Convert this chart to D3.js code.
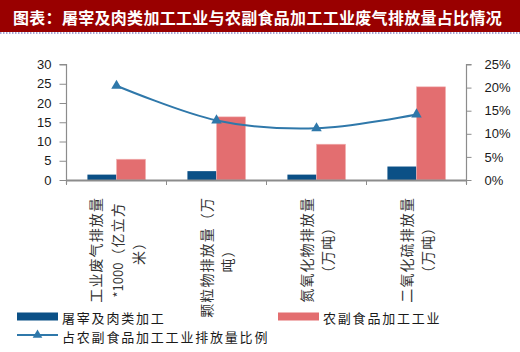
<!DOCTYPE html>
<html>
<head>
<meta charset="utf-8">
<script src="https://cdn.jsdelivr.net/npm/d3@7"></script>
<style>
  body { margin: 0; background: #fff; }
  svg { display: block; font-family: "Liberation Sans", Arial, sans-serif; }
  .cjk { font-family: "Noto Sans CJK SC", sans-serif; }
</style>
</head>
<body>
<svg></svg>
<script>
// chart data
const categories = ["工业废气排放量*1000（亿立方米）", "颗粒物排放量（万吨）", "氮氧化物排放量（万吨）", "二氧化硫排放量（万吨）"];
const categoryLines = [
    ["工业废气排放量", "*1000（亿立方", "米）"],
    ["颗粒物排放量（万", "吨）"],
    ["氮氧化物排放量", "（万吨）"],
    ["二氧化硫排放量", "（万吨）"]
];
const seriesNames = ["屠宰及肉类加工", "农副食品加工工业"];
const meatValues = [1.4, 2.3, 1.4, 3.5];
const farmValues = [5.4, 16.4, 9.3, 24.2];
const lineName = "占农副食品加工工业排放量比例";
const shareValues = [0.204, 0.129, 0.112, 0.142];
const leftTicks = [0, 5, 10, 15, 20, 25, 30];
const rightTicks = [0, 0.05, 0.10, 0.15, 0.20, 0.25];
const title = "图表：屠宰及肉类加工工业与农副食品加工工业废气排放量占比情况";

const W = 520, H = 352;
const margin = { top: 64.5, left: 66.5, right: 53.5, bottom: 172 };
const width = W - margin.left - margin.right;
const height = 180 - margin.top;

const svg = d3.select("svg").attr("width", W).attr("height", H);

// title bar
svg.append("rect").attr("x", 0).attr("y", 0).attr("width", W).attr("height", 32).attr("fill", "#990000");
svg.append("line").attr("x1", 0).attr("x2", W).attr("y1", 33).attr("y2", 33)
    .attr("stroke", "#8a8ac8").attr("stroke-width", 1.5).attr("stroke-dasharray", "1.5,1.5");
svg.append("text").attr("class", "cjk")
    .attr("x", 13).attr("y", 17)
    .attr("dominant-baseline", "central")
    .attr("fill", "#fff").attr("font-size", 16).attr("font-weight", "bold")
    .attr("letter-spacing", 0.3)
    .text(title);

const plot = svg.append("g").attr("transform", `translate(${margin.left}, ${margin.top})`);

// scales
const x = d3.scaleBand().domain(categories).range([0, width]).padding(0);
const xs = d3.scaleBand().domain(seriesNames).range([0, x.bandwidth()]).paddingInner(0).paddingOuter(0.72);
const y = d3.scaleLinear().domain([0, 30]).range([height, 0]);
const y2 = d3.scaleLinear().domain([0, 0.25]).range([height, 0]);

const colors = ["#0b5086", "#e36e70"];
const lineColor = "#2f78aa";
const axisColor = "#8c8c8c";

// bars
const rows = categories.map((c, i) => ({ cat: c, vals: [meatValues[i], farmValues[i]] }));
const groups = plot.selectAll("g.grp").data(rows).join("g")
    .attr("class", "grp")
    .attr("transform", d => `translate(${x(d.cat)},0)`);
groups.selectAll("rect").data(d => d.vals.map((v, k) => ({ k, v }))).join("rect")
    .attr("x", d => xs(seriesNames[d.k]))
    .attr("y", d => y(d.v))
    .attr("width", xs.bandwidth())
    .attr("height", d => y(0) - y(d.v))
    .attr("fill", d => colors[d.k])
    .attr("stroke", d => d.k === 1 ? "#f2b4b5" : "none")
    .attr("stroke-width", 0.6);

// left axis
const leftAxis = plot.append("g")
    .call(d3.axisLeft(y).tickValues(leftTicks).tickSize(7).tickPadding(8));
// right axis
const rightAxis = plot.append("g").attr("transform", `translate(${width},0)`)
    .call(d3.axisRight(y2).tickValues(rightTicks).tickSize(5).tickPadding(13).tickFormat(d3.format(".0%")));
// bottom axis
const bottomAxis = plot.append("g").attr("transform", `translate(0,${height})`)
    .call(d3.axisBottom(x).tickValues([]).tickSizeOuter(0));
const catTicks = [0, 1, 2, 3, 4].map(i => i * x.step());
bottomAxis.selectAll("line.ct").data(catTicks).join("line")
    .attr("class", "ct")
    .attr("x1", d => d).attr("x2", d => d).attr("y1", 0).attr("y2", 5)
    .attr("stroke", axisColor);

[leftAxis, rightAxis, bottomAxis].forEach(a => {
    a.select(".domain").attr("stroke", axisColor).attr("stroke-width", 1.2);
    a.selectAll(".tick line").attr("stroke", axisColor);
    a.selectAll("text").attr("fill", "#1a1a1a").attr("font-size", 13)
        .attr("font-family", "'Liberation Sans', Arial, sans-serif");
});
bottomAxis.select(".domain").attr("stroke-width", 2);
leftAxis.select(".domain").attr("d", `M-7,0H0V${height + 4}`);
rightAxis.select(".domain").attr("d", `M5,0H0V${height + 4}`);

// share line
const pts = categories.map((c, i) => [x(c) + x.bandwidth() / 2, y2(shareValues[i])]);
plot.append("path")
    .attr("d", d3.line().curve(d3.curveCardinal.tension(0))(pts))
    .attr("fill", "none").attr("stroke", lineColor).attr("stroke-width", 2);
plot.selectAll("path.mk").data(pts).join("path")
    .attr("class", "mk")
    .attr("transform", d => `translate(${d[0]},${d[1]})`)
    .attr("d", d3.symbol(d3.symbolTriangle, 48))
    .attr("fill", lineColor);

// category labels, rotated, lines centred; ascii runs set tighter
const labelTop = 197 - margin.top;
const lineGap = 21.5;
categoryLines.forEach((lines, i) => {
    const cx = x(categories[i]) + x.bandwidth() / 2;
    const g = plot.append("g").attr("class", "cjk")
        .attr("transform", `translate(${cx},${labelTop}) rotate(-90)`);
    const texts = g.selectAll("text").data(lines).join("text")
        .attr("y", (d, k) => (k - (lines.length - 1) / 2) * lineGap)
        .attr("dominant-baseline", "central")
        .attr("text-anchor", "middle")
        .attr("font-size", 14)
        .attr("fill", "#333");
    texts.each(function (d) {
        const runs = d.match(/[\x00-\x7f]+|[^\x00-\x7f]+/g);
        d3.select(this).selectAll("tspan").data(runs).join("tspan")
            .attr("letter-spacing", r => /[\x00-\x7f]/.test(r) ? 0 : 1.1)
            .attr("font-size", r => /[\x00-\x7f]/.test(r) ? 13 : 14)
            .text(r => r);
    });
    let maxLen = 0;
    texts.each(function () { maxLen = Math.max(maxLen, this.getComputedTextLength()); });
    texts.attr("x", -maxLen / 2);
});

// legend
const legend = svg.append("g").attr("class", "cjk");
const legItems = [
    { name: seriesNames[0], x: 17, y: 316.5, type: "bar", color: colors[0] },
    { name: seriesNames[1], x: 278, y: 316.5, type: "bar", color: colors[1] },
    { name: lineName, x: 17, y: 335, type: "line", color: lineColor }
];
legItems.forEach(it => {
    if (it.type === "bar") {
        legend.append("rect").attr("x", it.x).attr("y", it.y - 4).attr("width", 41).attr("height", 8).attr("fill", it.color);
    } else {
        legend.append("line").attr("x1", it.x).attr("x2", it.x + 41).attr("y1", it.y).attr("y2", it.y)
            .attr("stroke", it.color).attr("stroke-width", 2);
        legend.append("path").attr("transform", `translate(${it.x + 20.5},${it.y})`)
            .attr("d", d3.symbol(d3.symbolTriangle, 40)).attr("fill", it.color);
    }
    legend.append("text").attr("x", it.x + 45).attr("y", it.y + 1)
        .attr("dominant-baseline", "central")
        .attr("font-size", 13).attr("letter-spacing", 1.8).attr("fill", "#1a1a1a")
        .text(it.name);
});
</script>
</body>
</html>
